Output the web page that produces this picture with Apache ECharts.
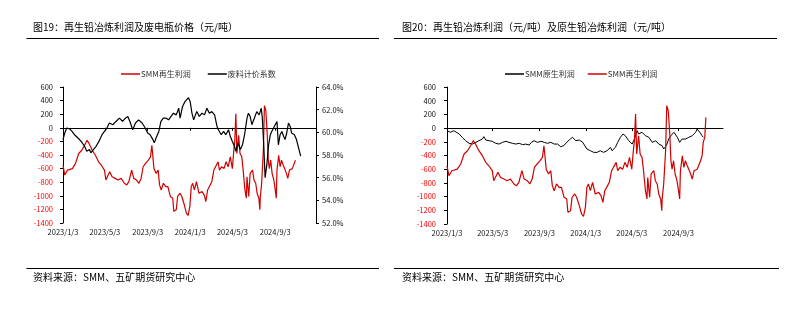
<!DOCTYPE html>
<html><head><meta charset="utf-8">
<script src="https://cdn.jsdelivr.net/npm/echarts@6/dist/echarts.min.js"></script>
<style>html,body{margin:0;padding:0;background:#fff}#c{width:796px;height:329px}</style>
</head><body><div id="c"></div><script>
// ---- data (x values are days after 2023/1/3) ----
const startDate = '2023/1/3';
const axisEndDate = '2024/12/29';
const xTickLabels = ['2023/1/3','2023/5/3','2023/9/3','2024/1/3','2024/5/3','2024/9/3'];
const leftChartRecycledEnd = '2024/10/31';

const recycledDays = [0,5,13,27,36,45,54,62,69,75,84,93,102,110,119,123,128,134,141,150,158,167,176,183,189,197,203,211,218,224,230,237,245,251,255,261,267,273,277,282,288,295,301,308,315,318,325,329,336,341,348,354,359,364,368,372,377,383,390,399,405,410,415,420,427,433,437,445,449,455,462,468,474,480,486,491,493,496,499,504,508,513,517,522,526,528,533,537,544,548,553,557,562,565,566,570,575,578,582,586,589,592,596,600,605,609,612,614,619,623,627,632,636,641,645,650,654,658,662,667,671,674,678,681];
const recycledProfit = [-550,-695,-622,-600,-524,-378,-330,-257,-184,-233,-330,-403,-500,-550,-622,-768,-792,-646,-720,-744,-768,-744,-816,-840,-792,-622,-744,-768,-816,-744,-573,-524,-476,-427,-257,-600,-670,-622,-840,-914,-816,-865,-865,-1010,-1035,-1229,-1205,-1010,-962,-1010,-1132,-1254,-1290,-1157,-865,-816,-914,-792,-962,-938,-986,-1084,-914,-938,-792,-622,-646,-500,-622,-573,-600,-500,-573,-427,-600,-281,-184,206,-378,-111,-378,-427,-622,-914,-1035,-720,-1010,-670,-622,-768,-816,-962,-1035,-1205,-1035,-816,-330,327,254,-86,-476,-600,-476,-670,-768,-914,-1035,-622,-403,-573,-476,-550,-600,-670,-744,-622,-646,-600,-622,-476,-403,-208,-135,157];

const primaryDays = [0,9,18,23,32,40,49,58,67,76,84,93,97,102,111,119,128,137,146,155,163,172,181,190,199,207,216,222,229,238,247,256,264,273,282,291,299,307,315,324,330,339,348,357,359,368,377,386,395,403,412,421,430,434,443,449,456,463,469,478,487,493,500,504,513,522,531,540,549,557,566,570,577,583,589,597,606,612,618,627,636,645,654,658,665,671,674];
const primaryProfit = [-38,-61,-38,-38,-86,-135,-184,-222,-233,-208,-184,-160,-125,-174,-184,-193,-222,-233,-208,-193,-208,-222,-233,-222,-242,-233,-247,-208,-184,-208,-193,-208,-222,-208,-233,-233,-271,-257,-208,-160,-135,-184,-174,-208,-233,-305,-330,-354,-354,-330,-354,-330,-281,-330,-281,-208,-135,-86,-111,-184,-233,-160,-38,-86,-61,-111,-135,-208,-184,-233,-257,-305,-257,-160,-111,-61,-135,-208,-160,-160,-135,-111,-61,-13,-61,-111,-135];

const scrapDays = [0,5,11,19,26,33,43,52,62,68,76,80,87,95,103,112,119,126,133,143,152,162,171,179,186,192,200,208,217,227,236,243,250,258,262,267,275,281,288,296,303,310,317,325,332,336,343,350,360,365,370,375,380,384,391,399,406,413,420,427,435,442,446,454,461,467,475,480,486,492,496,502,509,515,521,528,532,537,542,549,556,563,569,572,576,580,585,590,595,599,604,609,614,618,623,628,633,637,642,647,652,656,664,670,676,679,682];
const scrapCoef = [59.36,59.94,60.38,60.3,60.08,59.79,59.5,59.2,58.77,58.33,58.48,58.19,58.48,58.77,59.2,59.79,60.08,60.38,60.82,60.67,60.96,61.25,60.96,61.25,61.4,60.96,60.23,60.82,61.1,60.82,60.38,59.94,59.79,59.36,59.07,59.5,60.08,60.96,61.25,61.25,61.1,61.4,61.69,61.54,62.13,61.25,62.28,62.71,63.06,62.7,61.69,61.1,61.54,61.83,61.4,61.69,61.54,62.13,61.69,61.83,61.54,60.52,60.23,59.79,60.08,59.79,60.23,59.65,59.2,58.77,58.33,59.07,58.48,58.9,59.79,61.25,61.69,61.4,60.67,61.25,61.83,61.54,62.13,61.25,58.9,56.0,57.17,58.9,59.79,60.08,60.38,60.52,60.96,58.9,59.79,60.08,59.65,59.36,59.94,60.82,60.52,59.94,59.79,59.36,58.62,58.77,57.9];

const profitAxis = {min: -1400, max: 600, interval: 200};
const coefAxis = {min: 52, max: 64, interval: 2};

// ---- helpers ----
function parseDate(s){ const p = s.split('/').map(Number); return new Date(p[0], p[1]-1, p[2]).getTime(); }
const sp = startDate.split('/').map(Number);
function dayTime(off){ return new Date(sp[0], sp[1]-1, sp[2]+off).getTime(); }
function fmt(v){ const d = new Date(Number(v)); return d.getFullYear()+'/'+(d.getMonth()+1)+'/'+d.getDate(); }
function pairs(days, vals){ return days.map((d,i)=>[dayTime(d), vals[i]]); }

const xMin = parseDate(startDate), xMax = parseDate(axisEndDate);
const tickTimes = xTickLabels.map(parseDate);
const leftEnd = parseDate(leftChartRecycledEnd);
const recycledAll = pairs(recycledDays, recycledProfit);
const recycledLeft = recycledAll.filter(p => p[0] <= leftEnd);

const FONT = '"Noto Sans CJK SC", "Liberation Sans", sans-serif';
const RED = '#d00000';

function labelXAxis(g){
  return {type:'value', gridIndex:g, min:xMin, max:xMax, position:'bottom', scale:true,
    axisLine:{show:false, onZero:false}, axisTick:{show:false}, splitLine:{show:false},
    axisLabel:{customValues:tickTimes, formatter:fmt, fontSize:7.5, color:'#111', margin:5, fontFamily:FONT,
      hideOverlap:false}};
}
function zeroXAxis(g){
  return {type:'value', gridIndex:g, min:xMin, max:xMax, position:'bottom', scale:true,
    axisLine:{show:true, onZero:true, onZeroAxisIndex: g===0?0:2, lineStyle:{color:'#000', width:1}},
    axisTick:{show:true, customValues:tickTimes, length:3, lineStyle:{color:'#000'}},
    axisLabel:{show:false}, splitLine:{show:false}};
}
function profitYAxis(g, margin){
  return {type:'value', gridIndex:g, position:'left', min:profitAxis.min, max:profitAxis.max, interval:profitAxis.interval,
    axisLine:{show:true, onZero:false, lineStyle:{color:'#000', width:1}},
    axisTick:{show:true, length:3, lineStyle:{color:'#000'}}, splitLine:{show:false},
    axisLabel:{fontSize:7.5, margin:margin, fontFamily:FONT, formatter:(v)=>String(v),
      color:(v)=> (Number(v) < 0 ? '#ff0000' : '#111')}};
}

const chart = echarts.init(document.getElementById('c'));
chart.setOption({
  animation:false,
  backgroundColor:'#fff',
  textStyle:{fontFamily:FONT},
  grid:[{left:63, right:480, top:87, bottom:106}, {left:447, right:73, top:87, bottom:105}],
  xAxis:[labelXAxis(0), zeroXAxis(0), labelXAxis(1), zeroXAxis(1)],
  yAxis:[
    profitYAxis(0, 10),
    {type:'value', gridIndex:0, position:'right', min:coefAxis.min, max:coefAxis.max, interval:coefAxis.interval,
      axisLine:{show:true, onZero:false, lineStyle:{color:'#000', width:1}},
      axisTick:{show:true, length:3, lineStyle:{color:'#000'}}, splitLine:{show:false},
      axisLabel:{fontSize:7.5, margin:6, color:'#111', fontFamily:FONT, formatter:(v)=>Number(v).toFixed(1)+'%'}},
    profitYAxis(1, 11)
  ],
  legend:[
    {data:['SMM再生利润','废料计价系数'], left:116, top:65, icon:'rect', itemWidth:19, itemHeight:1.5, itemGap:17,
      textStyle:{fontSize:8, color:'#333', fontFamily:FONT, padding:[0,0,0,-4]}},
    {data:['SMM原生利润','SMM再生利润'], left:500, top:65, icon:'rect', itemWidth:19, itemHeight:1.5, itemGap:13,
      textStyle:{fontSize:8, color:'#333', fontFamily:FONT, padding:[0,0,0,-4]}}
  ],
  series:[
    {name:'SMM再生利润', type:'line', xAxisIndex:0, yAxisIndex:0, data:recycledLeft, showSymbol:false,
      color:RED, lineStyle:{color:RED, width:1.2}},
    {name:'废料计价系数', type:'line', xAxisIndex:0, yAxisIndex:1, data:pairs(scrapDays, scrapCoef), showSymbol:false,
      color:'#000', lineStyle:{color:'#000', width:1.2}},
    {name:'SMM原生利润', type:'line', xAxisIndex:2, yAxisIndex:2, data:pairs(primaryDays, primaryProfit), showSymbol:false,
      color:'#000', lineStyle:{color:'#000', width:1}},
    {name:'SMM再生利润', type:'line', xAxisIndex:2, yAxisIndex:2, data:recycledAll, showSymbol:false,
      color:RED, lineStyle:{color:RED, width:1.2}}
  ],
  graphic:[
    {type:'text', left:33, top:22, style:{text:'图19：再生铅冶炼利润及废电瓶价格（元/吨）', font:'10px '+FONT, fill:'#000'}},
    {type:'text', left:402, top:22, style:{text:'图20：再生铅冶炼利润（元/吨）及原生铅冶炼利润（元/吨）', font:'10px '+FONT, fill:'#000'}},
    {type:'line', shape:{x1:26.5, y1:38.5, x2:379, y2:38.5}, style:{stroke:'#000', lineWidth:1.2}},
    {type:'line', shape:{x1:394, y1:38.5, x2:777, y2:38.5}, style:{stroke:'#000', lineWidth:1.2}},
    {type:'line', shape:{x1:26.5, y1:268.5, x2:379, y2:268.5}, style:{stroke:'#000', lineWidth:1.2}},
    {type:'line', shape:{x1:394, y1:268.5, x2:779, y2:268.5}, style:{stroke:'#000', lineWidth:1.2}},
    {type:'text', left:33, top:272, style:{text:'资料来源：SMM、五矿期货研究中心', font:'10px '+FONT, fill:'#000'}},
    {type:'text', left:402, top:272, style:{text:'资料来源：SMM、五矿期货研究中心', font:'10px '+FONT, fill:'#000'}}
  ]
});
</script></body></html>
